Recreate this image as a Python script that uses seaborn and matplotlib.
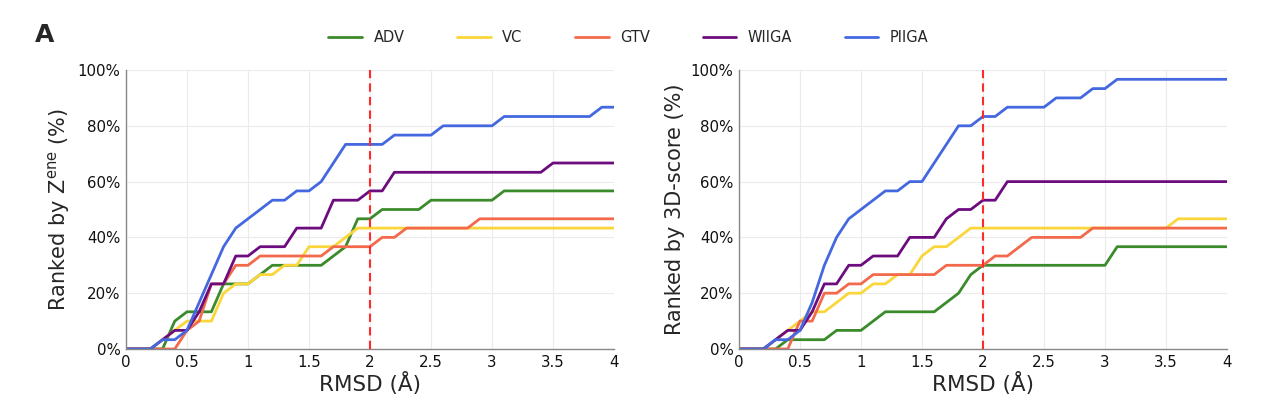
import numpy as np
import pandas as pd
import seaborn as sns
import matplotlib.pyplot as plt
from matplotlib.ticker import PercentFormatter, FuncFormatter

# RMSD thresholds (Å)
rmsd = [0.0, 0.1, 0.2, 0.3, 0.4, 0.5, 0.6, 0.7, 0.8, 0.9,
        1.0, 1.1, 1.2, 1.3, 1.4, 1.5, 1.6, 1.7, 1.8, 1.9,
        2.0, 2.1, 2.2, 2.3, 2.4, 2.5, 2.6, 2.7, 2.8, 2.9,
        3.0, 3.1, 3.2, 3.3, 3.4, 3.5, 3.6, 3.7, 3.8, 3.9, 4.0]
n_targets = 30
methods = ['ADV', 'VC', 'GTV', 'WIIGA', 'PIIGA']

# number of targets (out of 30) ranked correctly, ranked by Z-ene
zene_adv = [0, 0, 0, 0, 3, 4, 4, 4, 7, 7, 7, 8, 9, 9, 9, 9, 9, 10, 11, 14, 14,
            15, 15, 15, 15, 16, 16, 16, 16, 16, 16, 17, 17, 17, 17, 17, 17, 17, 17, 17, 17]
zene_vc = [0, 0, 0, 1, 2, 3, 3, 3, 6, 7, 7, 8, 8, 9, 9, 11, 11, 11, 12, 13, 13,
           13, 13, 13, 13, 13, 13, 13, 13, 13, 13, 13, 13, 13, 13, 13, 13, 13, 13, 13, 13]
zene_gtv = [0, 0, 0, 0, 0, 2, 3, 7, 7, 9, 9, 10, 10, 10, 10, 10, 10, 11, 11, 11, 11,
            12, 12, 13, 13, 13, 13, 13, 13, 14, 14, 14, 14, 14, 14, 14, 14, 14, 14, 14, 14]
zene_wiiga = [0, 0, 0, 1, 2, 2, 4, 7, 7, 10, 10, 11, 11, 11, 13, 13, 13, 16, 16, 16, 17,
              17, 19, 19, 19, 19, 19, 19, 19, 19, 19, 19, 19, 19, 19, 20, 20, 20, 20, 20, 20]
zene_piiga = [0, 0, 0, 1, 1, 2, 5, 8, 11, 13, 14, 15, 16, 16, 17, 17, 18, 20, 22, 22, 22,
              22, 23, 23, 23, 23, 24, 24, 24, 24, 24, 25, 25, 25, 25, 25, 25, 25, 25, 26, 26]

# ranked by 3D-score
d3_adv = [0, 0, 0, 0, 1, 1, 1, 1, 2, 2, 2, 3, 4, 4, 4, 4, 4, 5, 6, 8, 9,
          9, 9, 9, 9, 9, 9, 9, 9, 9, 9, 11, 11, 11, 11, 11, 11, 11, 11, 11, 11]
d3_vc = [0, 0, 0, 1, 2, 3, 4, 4, 5, 6, 6, 7, 7, 8, 8, 10, 11, 11, 12, 13, 13,
         13, 13, 13, 13, 13, 13, 13, 13, 13, 13, 13, 13, 13, 13, 13, 14, 14, 14, 14, 14]
d3_gtv = [0, 0, 0, 0, 0, 3, 3, 6, 6, 7, 7, 8, 8, 8, 8, 8, 8, 9, 9, 9, 9,
          10, 10, 11, 12, 12, 12, 12, 12, 13, 13, 13, 13, 13, 13, 13, 13, 13, 13, 13, 13]
d3_wiiga = [0, 0, 0, 1, 2, 2, 4, 7, 7, 9, 9, 10, 10, 10, 12, 12, 12, 14, 15, 15, 16,
            16, 18, 18, 18, 18, 18, 18, 18, 18, 18, 18, 18, 18, 18, 18, 18, 18, 18, 18, 18]
d3_piiga = [0, 0, 0, 1, 1, 2, 5, 9, 12, 14, 15, 16, 17, 17, 18, 18, 20, 22, 24, 24, 25,
            25, 26, 26, 26, 26, 27, 27, 27, 28, 28, 29, 29, 29, 29, 29, 29, 29, 29, 29, 29]

palette = {'ADV': '#3b8b2c', 'VC': '#fbd63a', 'GTV': '#f26a4b',
           'WIIGA': '#6c0c7e', 'PIIGA': '#4468e0'}


def to_long(series):
    frames = []
    for name, vals in zip(methods, series):
        frames.append(pd.DataFrame({'RMSD': rmsd,
                                    'pct': np.array(vals) * 100.0 / n_targets,
                                    'method': name}))
    return pd.concat(frames, ignore_index=True)


zene_df = to_long([zene_adv, zene_vc, zene_gtv, zene_wiiga, zene_piiga])
d3_df = to_long([d3_adv, d3_vc, d3_gtv, d3_wiiga, d3_piiga])

sns.set_style("whitegrid")
plt.rcParams['font.family'] = ['DejaVu Sans']
plt.rcParams['mathtext.default'] = 'regular'

fig = plt.figure(figsize=(12.8, 3.96), dpi=100)
ax1 = fig.add_axes([0.0984, 0.1187, 0.3813, 0.7045])
ax2 = fig.add_axes([0.5773, 0.1187, 0.3813, 0.7045])

panels = [(ax1, zene_df, r'Ranked by Z$^{ene}$ (%)'),
          (ax2, d3_df, 'Ranked by 3D-score (%)')]

for ax, df, ylab in panels:
    sns.lineplot(data=df, x='RMSD', y='pct', hue='method', hue_order=methods,
                 palette=palette, linewidth=2, ax=ax)
    ax.axvline(2, color='#ff2b2b', ls=(0, (4, 2.5)), lw=1.5, zorder=5)
    ax.set_xlim(0, 4)
    ax.set_ylim(0, 100)
    ax.set_xticks([0, 0.5, 1, 1.5, 2, 2.5, 3, 3.5, 4])
    ax.set_yticks([0, 20, 40, 60, 80, 100])
    ax.xaxis.set_major_formatter(FuncFormatter(lambda v, p: f'{v:g}'))
    ax.yaxis.set_major_formatter(PercentFormatter(xmax=100, decimals=0))
    ax.tick_params(axis='both', labelsize=10.8, length=3, width=0.8,
                   color='#888888', pad=1, labelcolor='#111111')
    ax.grid(True, color='#ebebeb', lw=0.8)
    for side in ['top', 'right']:
        ax.spines[side].set_visible(False)
    for side in ['left', 'bottom']:
        ax.spines[side].set_color('#888888')
        ax.spines[side].set_linewidth(1.0)
    ax.set_xlabel('RMSD (Å)', fontsize=15.5, labelpad=2)
    ax.set_ylabel(ylab, fontsize=15, labelpad=4)
    ax.get_legend().remove()

handles, labels = ax1.get_legend_handles_labels()
fig.legend(handles, labels, loc='center', bbox_to_anchor=(0.491, 0.905), ncol=5,
           frameon=False, fontsize=10.5, handlelength=2.3, handletextpad=0.8,
           columnspacing=3.6)

fig.text(0.027, 0.895, 'A', fontsize=18, fontweight='bold')

fig.savefig('out.png', dpi=100)
